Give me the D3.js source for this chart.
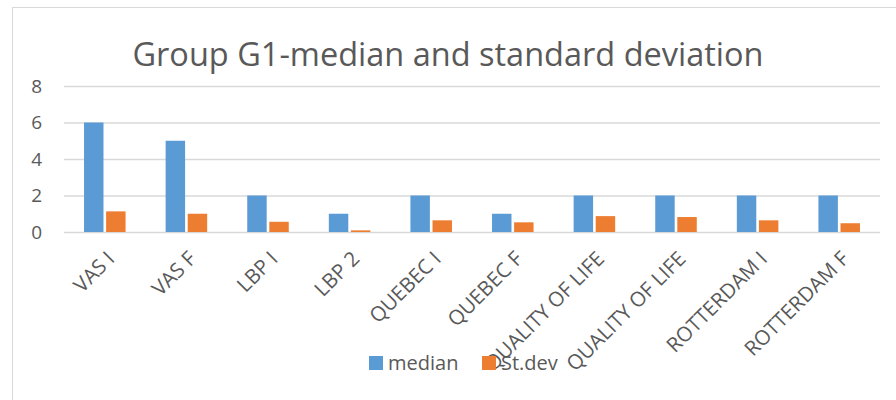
<!DOCTYPE html>
<html>
<head>
<meta charset="utf-8">
<script src="https://cdn.jsdelivr.net/npm/d3@7"></script>
<style>
	body { margin: 0; background: #fff; }
	svg { display: block; font-family: "Open Sans", sans-serif; }
</style>
</head>
<body>
<div id="chart-area"></div>
<script>

// Data
var categories = ["VAS I", "VAS F", "LBP I", "LBP 2", "QUEBEC I", "QUEBEC F",
	"QUALITY OF LIFE", "QUALITY OF LIFE", "ROTTERDAM I", "ROTTERDAM F"];
var medianValues = [6, 5, 2, 1, 2, 1, 2, 2, 2, 2];
var stdevValues = [1.13, 1.0, 0.56, 0.09, 0.64, 0.53, 0.87, 0.82, 0.64, 0.48];
var seriesNames = ["median", "St.dev"];
var seriesColors = ["#5B9BD5", "#ED7D31"];
var yTicks = [0, 2, 4, 6, 8];

var data = categories.map((c, i) => {
	return { idx: i, name: c, values: [medianValues[i], stdevValues[i]] };
});

// Setup the canvas
var width = 896;
var height = 400;
var plot = { left: 64, right: 880, top: 86, bottom: 232 };
var fontFam = "'Open Sans', sans-serif";

var svg = d3.select("#chart-area").append("svg")
	.attr("width", width)
	.attr("height", height);

// chart frame
svg.append("rect")
	.attr("x", 12.5)
	.attr("y", 7.5)
	.attr("width", 900)
	.attr("height", 420)
	.attr("fill", "#fff")
	.attr("stroke", "#D9D9D9")
	.attr("stroke-width", 1);

// Title
svg.append("text")
	.attr("x", 448)
	.attr("y", 66)
	.attr("text-anchor", "middle")
	.attr("font-size", "32.5px")
	.attr("fill", "#595959")
	.text("Group G1-median and standard deviation");

// Scales
var x0 = d3.scaleBand()
	.domain(d3.range(categories.length))
	.range([plot.left, plot.right])
	.paddingInner(0.491)
	.paddingOuter(0.2455);

var x1 = d3.scaleBand()
	.domain([0, 1])
	.range([0, x0.bandwidth()])
	.paddingInner(0.119);

var y = d3.scaleLinear()
	.domain([0, 8])
	.range([plot.bottom, plot.top]);

// Gridlines + y axis
var yAxis = d3.axisLeft(y)
	.tickValues(yTicks)
	.tickSize(-(plot.right - plot.left))
	.tickPadding(22);

var gy = svg.append("g")
	.attr("class", "y axis")
	.attr("transform", "translate(" + plot.left + ",0)")
	.call(yAxis);
gy.select(".domain").remove();
gy.selectAll("line")
	.attr("stroke", "#D9D9D9")
	.attr("stroke-width", 1.3);
gy.selectAll("text")
	.attr("fill", "#595959")
	.attr("font-size", "19px")
	.attr("font-family", fontFam);

// Bars
var groups = svg.selectAll("g.cat").data(data).enter()
	.append("g")
	.attr("class", "cat")
	.attr("transform", (d) => "translate(" + x0(d.idx) + ",0)");

groups.selectAll("rect")
	.data((d) => d.values.map((v, k) => ({ k: k, v: v })))
	.enter()
	.append("rect")
		.attr("x", (d) => x1(d.k))
		.attr("y", (d) => y(d.v))
		.attr("width", x1.bandwidth())
		.attr("height", (d) => y(0) - y(d.v))
		.attr("fill", (d) => seriesColors[d.k]);

// X labels (rotated)
var xAxis = d3.axisBottom(x0)
	.tickSize(0)
	.tickFormat((i) => categories[i]);

var gx = svg.append("g")
	.attr("class", "x axis")
	.attr("transform", "translate(0," + plot.bottom + ")")
	.call(xAxis);
gx.select(".domain").remove();
gx.selectAll("text")
	.attr("fill", "#595959")
	.attr("font-size", "20.5px")
	.attr("font-family", fontFam)
	.attr("text-anchor", "end")
	.attr("x", 0)
	.attr("y", 0)
	.attr("dy", "0.35em")
	.attr("transform", "translate(6,23) rotate(-45)");

// Legend
var legendX = [369, 482];
var legend = svg.selectAll("g.legend").data(seriesNames).enter()
	.append("g")
	.attr("class", "legend")
	.attr("transform", (d, i) => "translate(" + legendX[i] + ",356)");

legend.append("rect")
	.attr("width", 14)
	.attr("height", 14)
	.attr("fill", (d, i) => seriesColors[i]);

legend.append("text")
	.attr("x", 19)
	.attr("y", 14)
	.attr("font-size", "20px")
	.attr("fill", "#595959")
	.text((d) => d);

</script>
</body>
</html>
